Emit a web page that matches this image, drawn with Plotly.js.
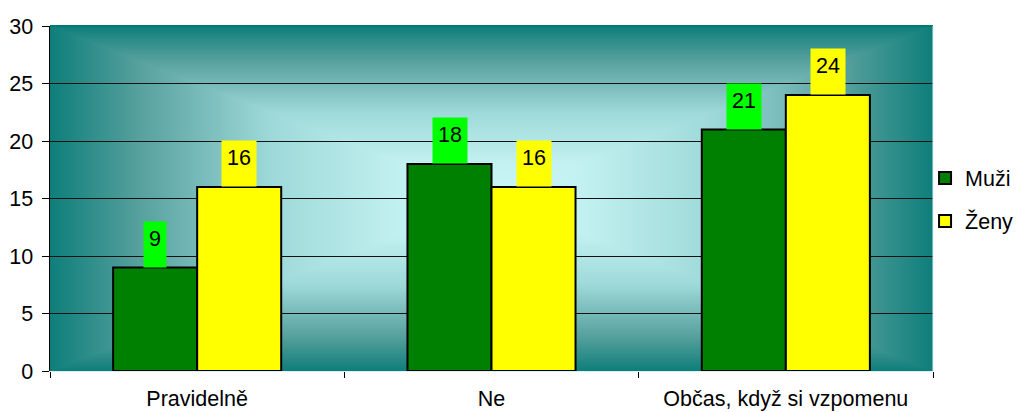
<!DOCTYPE html>
<html>
<head>
<meta charset="utf-8">
<script src="https://cdn.plot.ly/plotly-3.0.1.min.js"></script>
<style>
  html, body { margin: 0; padding: 0; background: #ffffff; }
  #chart { width: 1034px; height: 412px; }
</style>
</head>
<body>
<div id="chart"></div>
<script>
// Survey answers split by gender
const categories = ['Pravidelně', 'Ne', 'Občas, když si vzpomenu'];
const seriesNames = ['Muži', 'Ženy'];
const muzi = [9, 18, 21];
const zeny = [16, 16, 24];
const yTicks = [0, 5, 10, 15, 20, 25, 30];

const FONT = 'Liberation Sans, Arial, sans-serif';
const FS = 21.5;

// Plot-area fill: rectangular "from centre" gradient built from four triangles
function centreGradient() {
  const stops =
    `<stop offset='0' stop-color='#0e7e7a'/>` +
    `<stop offset='0.2' stop-color='#56a09d'/>` +
    `<stop offset='0.5' stop-color='#9ed9d9'/>` +
    `<stop offset='0.8' stop-color='#c3f1f1'/>` +
    `<stop offset='1' stop-color='#c9f6f6'/>`;
  const svg =
    `<svg xmlns='http://www.w3.org/2000/svg' viewBox='0 0 100 100' preserveAspectRatio='none'>` +
    `<defs>` +
    `<linearGradient id='t' x1='0' y1='0' x2='0' y2='1'>${stops}</linearGradient>` +
    `<linearGradient id='b' x1='0' y1='1' x2='0' y2='0'>${stops}</linearGradient>` +
    `<linearGradient id='l' x1='0' y1='0' x2='1' y2='0'>${stops}</linearGradient>` +
    `<linearGradient id='r' x1='1' y1='0' x2='0' y2='0'>${stops}</linearGradient>` +
    `</defs>` +
    `<polygon points='0,0 100,0 50,50' fill='url(#t)' stroke='url(#t)' stroke-width='0.3'/>` +
    `<polygon points='0,100 100,100 50,50' fill='url(#b)' stroke='url(#b)' stroke-width='0.3'/>` +
    `<polygon points='0,0 0,100 50,50' fill='url(#l)' stroke='url(#l)' stroke-width='0.3'/>` +
    `<polygon points='100,0 100,100 50,50' fill='url(#r)' stroke='url(#r)' stroke-width='0.3'/>` +
    `</svg>`;
  return 'data:image/svg+xml;charset=utf-8,' + encodeURIComponent(svg);
}

const traces = [
  {
    type: 'bar', name: seriesNames[0], x: categories, y: muzi,
    legendgroup: 'g1',
    marker: { color: '#008000', line: { color: '#000000', width: 2 } },
    hoverinfo: 'x+y'
  },
  {
    type: 'bar', name: seriesNames[1], x: categories, y: zeny,
    legendgroup: 'g2',
    marker: { color: '#ffff00', line: { color: '#000000', width: 2 } },
    hoverinfo: 'x+y'
  }
];

// Value labels on coloured boxes above each bar
function valueLabels(values, shift, bg) {
  return values.map((v, i) => ({
    x: categories[i], y: v, xref: 'x', yref: 'y',
    text: String(v), showarrow: false,
    xshift: shift, yanchor: 'bottom', xanchor: 'center',
    bgcolor: bg, borderpad: 5, height: 35, valign: 'top',
    font: { family: FONT, size: FS, color: '#000000' }
  }));
}

const layout = {
  width: 1034, height: 412,
  margin: { l: 50, r: 101, t: 26, b: 41, pad: 0 },
  paper_bgcolor: '#ffffff',
  plot_bgcolor: 'rgba(0,0,0,0)',
  font: { family: FONT, size: FS, color: '#000000' },
  barmode: 'group', bargap: 0.429, bargroupgap: 0,
  showlegend: true,
  legend: {
    x: 0.991, xanchor: 'left', y: 0.497, yanchor: 'middle',
    traceorder: 'grouped', tracegroupgap: 12,
    font: { family: FONT, size: FS, color: '#000000' },
    bgcolor: 'rgba(0,0,0,0)'
  },
  xaxis: {
    type: 'category',
    showgrid: false, zeroline: false,
    showline: true, linecolor: '#d6f2f2', linewidth: 1,
    ticks: 'outside', tickson: 'boundaries', ticklen: 6, tickcolor: '#000000', tickwidth: 1,
    ticklabelstandoff: 8,
    tickfont: { family: FONT, size: FS, color: '#000000' }
  },
  yaxis: {
    range: [0, 30], tickvals: yTicks, ticktext: yTicks.map(String),
    showgrid: true, gridcolor: '#111111', gridwidth: 1,
    zeroline: false,
    showline: true, linecolor: '#000000', linewidth: 1.5,
    ticks: 'outside', ticklen: 7, tickcolor: '#000000', tickwidth: 1,
    ticklabelstandoff: 4,
    tickfont: { family: FONT, size: FS, color: '#000000' }
  },
  images: [{
    source: centreGradient(),
    xref: 'paper', yref: 'paper', x: 0, y: 1, sizex: 1, sizey: 1,
    xanchor: 'left', yanchor: 'top', sizing: 'stretch', layer: 'below'
  }],
  shapes: [
    { type: 'line', xref: 'paper', yref: 'paper', x0: 0, x1: 1, y0: 1, y1: 1,
      line: { color: '#007874', width: 2 } },
    { type: 'line', xref: 'paper', yref: 'paper', x0: 1, x1: 1, y0: 0, y1: 1,
      line: { color: '#cfeeee', width: 1 } }
  ],
  annotations: [
    ...valueLabels(muzi, -42, '#00ff00'),
    ...valueLabels(zeny, 42, '#ffff00')
  ]
};

Plotly.newPlot('chart', traces, layout, { displayModeBar: false, staticPlot: true });
</script>
</body>
</html>
